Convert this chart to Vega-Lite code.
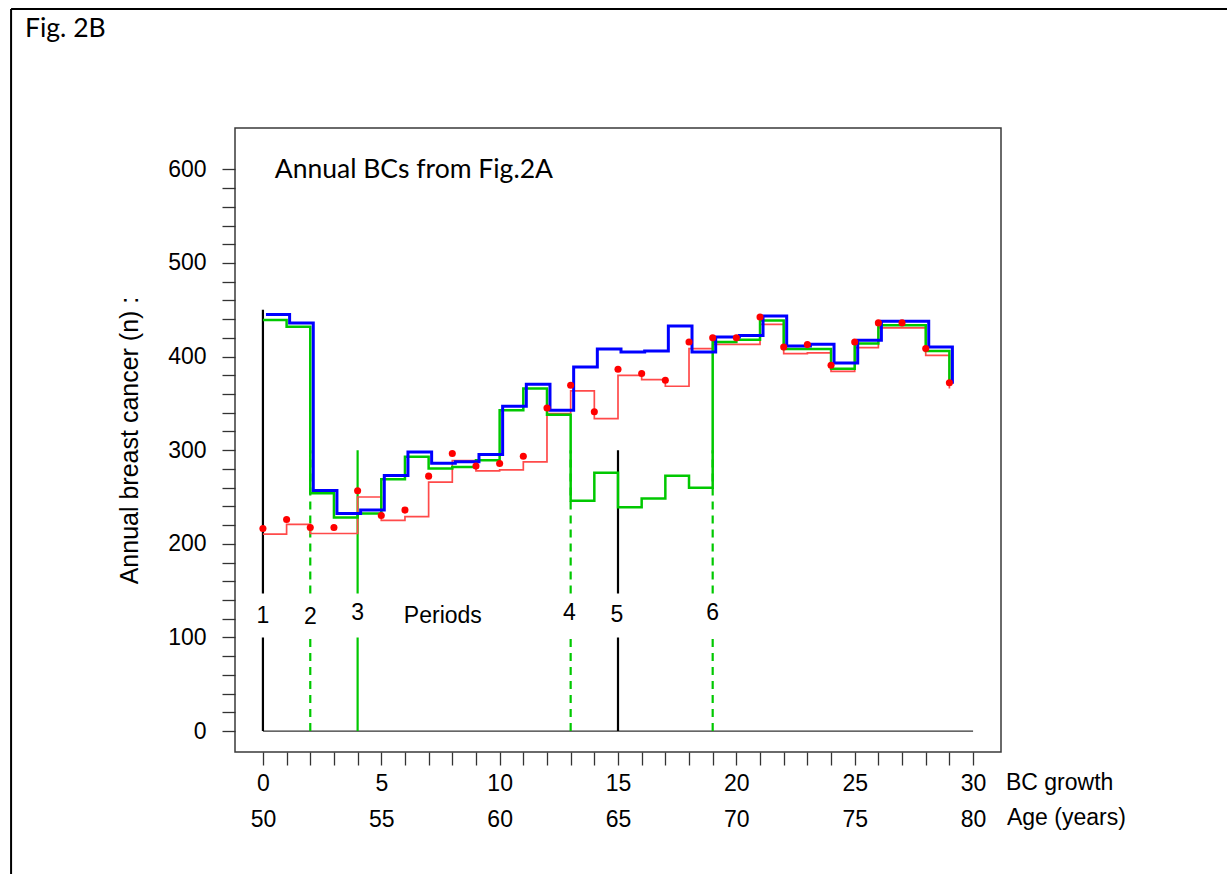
{
  "$schema": "https://vega.github.io/schema/vega-lite/v6.json",
  "width": 766,
  "height": 624,
  "autosize": {"type": "none"},
  "padding": {"left": 235, "top": 128, "right": 226, "bottom": 122},
  "background": "white",
  "config": {
    "view": {"stroke": "#3a3a3a", "strokeWidth": 1.5},
    "text": {"font": "Liberation Sans", "fontSize": 22, "color": "#000"}
  },
  "datasets": {
    "steps": [
      {"x": 0, "red": 210.4, "green": 439, "blue": 445, "dot": 216.4},
      {"x": 1, "red": 220.7, "green": 432, "blue": 436, "dot": 226},
      {"x": 2, "red": 211, "green": 254, "blue": 257, "dot": 217.5},
      {"x": 3, "red": 211, "green": 228, "blue": 232.5, "dot": 217.5},
      {"x": 4, "red": 250, "green": 232.5, "blue": 236, "dot": 256.6},
      {"x": 5, "red": 225, "green": 269, "blue": 273, "dot": 230.3},
      {"x": 6, "red": 229, "green": 293, "blue": 298, "dot": 236},
      {"x": 7, "red": 266, "green": 280.5, "blue": 286, "dot": 272.3},
      {"x": 8, "red": 289, "green": 282, "blue": 287.6, "dot": 296.5},
      {"x": 9, "red": 278, "green": 289.4, "blue": 295.4, "dot": 283},
      {"x": 10, "red": 279, "green": 342.7, "blue": 347, "dot": 285.8},
      {"x": 11, "red": 287.5, "green": 366, "blue": 370.5, "dot": 293.6},
      {"x": 12, "red": 339, "green": 338, "blue": 342.7, "dot": 345},
      {"x": 13, "red": 363.4, "green": 246, "blue": 389, "dot": 369.4},
      {"x": 14, "red": 333.8, "green": 276, "blue": 408, "dot": 341},
      {"x": 15, "red": 380, "green": 239, "blue": 405, "dot": 386.5},
      {"x": 16, "red": 375.4, "green": 248.4, "blue": 406, "dot": 382},
      {"x": 17, "red": 368.3, "green": 272.6, "blue": 432.7, "dot": 374.7},
      {"x": 18, "red": 408.5, "green": 260, "blue": 405, "dot": 415.6},
      {"x": 19, "red": 413, "green": 415.5, "blue": 421, "dot": 420},
      {"x": 20, "red": 413, "green": 418, "blue": 422.5, "dot": 420},
      {"x": 21, "red": 434.5, "green": 438.5, "blue": 443.4, "dot": 442.3},
      {"x": 22, "red": 403.2, "green": 408, "blue": 411.4, "dot": 410.3},
      {"x": 23, "red": 404, "green": 408, "blue": 413.2, "dot": 412.8},
      {"x": 24, "red": 384.3, "green": 387, "blue": 393.2, "dot": 390.7},
      {"x": 25, "red": 409.6, "green": 414, "blue": 417.4, "dot": 415.6},
      {"x": 26, "red": 430.6, "green": 433.5, "blue": 437.7, "dot": 436},
      {"x": 27, "red": 430.6, "green": 433.5, "blue": 437.7, "dot": 436},
      {"x": 28, "red": 401.4, "green": 406, "blue": 410.3, "dot": 408.6},
      {"x": 29, "red": 366, "green": 369, "blue": 371, "dot": 372}
    ],
    "periods": [
      {"period": "1", "x": 0, "y": 0, "y2": 100},
      {"period": "1", "x": 0, "y": 147, "y2": 450},
      {"period": "2", "x": 2, "y": 0, "y2": 100},
      {"period": "2", "x": 2, "y": 147, "y2": 300},
      {"period": "3", "x": 4, "y": 0, "y2": 100},
      {"period": "3", "x": 4, "y": 147, "y2": 300},
      {"period": "4", "x": 13, "y": 0, "y2": 100},
      {"period": "4", "x": 13, "y": 147, "y2": 300},
      {"period": "5", "x": 15, "y": 0, "y2": 100},
      {"period": "5", "x": 15, "y": 147, "y2": 300},
      {"period": "6", "x": 19, "y": 0, "y2": 100},
      {"period": "6", "x": 19, "y": 147, "y2": 300}
    ],
    "periodLabels": [
      {"text": "1", "x": 0, "y": 123},
      {"text": "2", "x": 2, "y": 122},
      {"text": "3", "x": 4, "y": 126},
      {"text": "Periods", "x": 7.6, "y": 123},
      {"text": "4", "x": 12.95, "y": 126},
      {"text": "5", "x": 14.95, "y": 124},
      {"text": "6", "x": 19, "y": 126}
    ],
    "axisNotes": [
      {"text": "BC growth", "x": 31.39, "y": -55},
      {"text": "Age (years)", "x": 31.43, "y": -93}
    ],
    "titles": [
      {"text": "Annual BCs from Fig.2A", "x": 0.5, "y": 590.5},
      {"text": "Fig. 2B", "x": -10.05, "y": 741.5}
    ],
    "frame": [
      {"x": -10.64, "y": 771.4, "x2": 45, "y2": 771.4},
      {"x": -10.64, "y": 771.4, "x2": -10.64, "y2": -180}
    ],
    "baseline": [
      {"x": 0, "y": 0, "x2": 30, "y2": 0}
    ]
  },
  "encoding": {
    "x": {
      "field": "x", "type": "quantitative",
      "scale": {"domain": [-1.18, 31.18], "nice": false, "zero": false},
      "axis": {
        "values": [0,1,2,3,4,5,6,7,8,9,10,11,12,13,14,15,16,17,18,19,20,21,22,23,24,25,26,27,28,29,30],
        "labelExpr": "datum.value % 5 == 0 ? [datum.label, '' + (datum.value + 50)] : ''",
        "title": null, "domain": false, "grid": false,
        "tickSize": 13, "tickColor": "#333", "tickWidth": 1.3,
        "labelFont": "Liberation Sans", "labelFontSize": 23, "labelColor": "#000",
        "labelPadding": 7, "labelLineHeight": 36, "labelFlush": false, "labelOverlap": false, "labelBound": false
      }
    },
    "y": {
      "field": "y", "type": "quantitative",
      "scale": {"domain": [-22.4, 644.2], "nice": false, "zero": false},
      "axis": {
        "values": [0,20,40,60,80,100,120,140,160,180,200,220,240,260,280,300,320,340,360,380,400,420,440,460,480,500,520,540,560,580,600],
        "labelExpr": "datum.value % 100 == 0 ? datum.label : ''",
        "title": "Annual  breast cancer (n) :",
        "titleFont": "Liberation Sans", "titleFontSize": 25, "titleFontWeight": "normal", "titleColor": "#000", "titlePadding": 25,
        "domain": false, "grid": false,
        "tickSize": 13, "tickColor": "#333", "tickWidth": 1.3,
        "labelFont": "Liberation Sans", "labelFontSize": 23, "labelColor": "#000", "labelPadding": 16, "labelOverlap": false
      }
    }
  },
  "layer": [
    {
      "data": {"name": "frame"},
      "mark": {"type": "rule", "color": "#000", "strokeWidth": 2},
      "encoding": {"x2": {"field": "x2"}, "y2": {"field": "y2"}}
    },
    {
      "data": {"name": "baseline"},
      "mark": {"type": "rule", "color": "#333", "strokeWidth": 1.3},
      "encoding": {"x2": {"field": "x2"}, "y2": {"field": "y2"}}
    },
    {
      "data": {"name": "periods"},
      "mark": {"type": "rule", "strokeWidth": 2.2},
      "encoding": {
        "y2": {"field": "y2"},
        "color": {"field": "period", "type": "nominal", "legend": null,
          "scale": {"domain": ["1","2","3","4","5","6"], "range": ["#000000","#00c800","#00c800","#00c800","#000000","#00c800"]}},
        "strokeDash": {"field": "period", "type": "nominal", "legend": null,
          "scale": {"domain": ["1","2","3","4","5","6"], "range": [[1,0],[8,6],[1,0],[8,6],[1,0],[8,6]]}}
      }
    },
    {
      "data": {"name": "steps"},
      "transform": [{"fold": ["red"], "as": ["series", "y"]}],
      "mark": {"type": "line", "interpolate": "step-after", "color": "#ff4a4a", "strokeWidth": 1.7}
    },
    {
      "data": {"name": "steps"},
      "transform": [{"fold": ["green"], "as": ["series", "y"]}],
      "mark": {"type": "line", "interpolate": "step-after", "color": "#00c800", "strokeWidth": 2.5}
    },
    {
      "data": {"name": "steps"},
      "transform": [{"fold": ["blue"], "as": ["series", "y"]}],
      "mark": {"type": "line", "interpolate": "step-after", "color": "#0000ff", "strokeWidth": 3, "xOffset": 3}
    },
    {
      "data": {"name": "steps"},
      "transform": [{"fold": ["dot"], "as": ["series", "y"]}],
      "mark": {"type": "circle", "color": "#ff0000", "opacity": 1, "size": 50}
    },
    {
      "data": {"name": "periodLabels"},
      "mark": {"type": "text", "align": "center", "baseline": "middle", "font": "Liberation Sans", "fontSize": 23},
      "encoding": {"text": {"field": "text", "type": "nominal"}}
    },
    {
      "data": {"name": "axisNotes"},
      "mark": {"type": "text", "align": "left", "baseline": "middle", "font": "Liberation Sans", "fontSize": 23},
      "encoding": {"text": {"field": "text", "type": "nominal"}}
    },
    {
      "data": {"name": "titles"},
      "mark": {"type": "text", "align": "left", "baseline": "alphabetic", "font": "Lato", "fontSize": 26.5},
      "encoding": {"text": {"field": "text", "type": "nominal"}}
    }
  ]
}
